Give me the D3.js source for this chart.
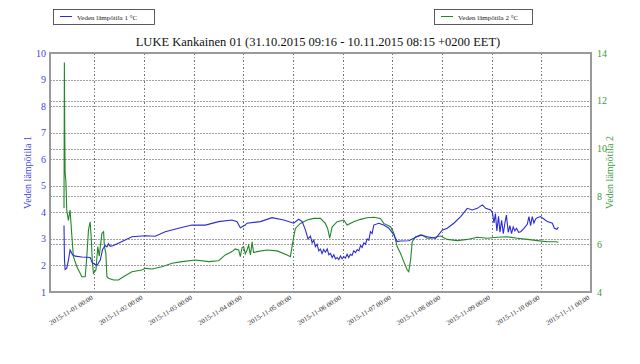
<!DOCTYPE html>
<meta charset="utf-8">
<head>
<style>
body { margin: 0; background: #fff; }
text { font-family: "Liberation Serif", "Times New Roman", serif; }
.grid line { stroke: #a0a0a0; stroke-dasharray: 1.5,1.5; shape-rendering: crispEdges; }
.vgrid line { stroke: #777; stroke-dasharray: 1.5,2; shape-rendering: crispEdges; }
</style>
</head>
<body>
<script src="https://cdn.jsdelivr.net/npm/d3@7"></script>
<script>

var chartTitle = "LUKE Kankainen 01 (31.10.2015 09:16 - 10.11.2015 08:15 +0200 EET)";
var seriesNames = ["Veden lämpötila 1 °C", "Veden lämpötila 2 °C"];
var axisNames = ["Veden lämpötila 1", "Veden lämpötila 2"];

// hours since 2015-10-31 00:00
var blueHours = [9.27, 9.5, 9.8, 10.6, 11.4, 12.2, 13.4, 14.7, 17.9, 21.9, 23.0, 25.2, 26.8, 27.9, 29.2, 30.0, 30.8, 31.6, 33.2, 37.3,
    42.1, 48.5, 53.4, 58.2, 64.6, 71.1, 77.6, 84.0, 90.5, 92.9, 94.5, 96.9, 97.7, 104.2, 109.8, 115.5, 120.3, 122.7, 124.4,
    126, 127.2, 128.4, 129.2, 130, 130.8, 131.6, 132.4, 133.2, 134, 134.8, 135.6, 136.5, 137.3, 138.1, 138.9, 139.7, 140.5,
    141.3, 142.1, 142.9, 143.7, 144.5, 145.3, 146.1, 146.9, 147.7, 148.5, 149.3, 150.2, 151, 151.8, 152.6, 153.4, 154.2,
    155, 155.8, 156.6, 157.4, 158.2, 159, 161.4, 163.8, 166.3, 168.7, 170.3, 171.9, 175.9, 178.4, 181.6, 184.8, 188.9,
    192.1, 194.5, 197.7, 201, 204.2, 206.6, 209, 211.5, 213.1, 215.5, 216.3, 217.1, 217.8, 218.5, 219.3, 220.0, 220.8,
    221.6, 222.4, 223.1, 224.0, 224.8, 225.6, 226.4, 227.2, 228, 229, 230, 231.6, 233.2, 234.0, 234.8, 235.6, 236.4,
    237.2, 238.0, 239.6, 241.2, 242.9, 245.3, 246.3, 247.5, 248.25];
var blueTemp = [3.5, 2.2, 1.85, 1.9, 2.2, 2.58, 2.4, 2.35, 2.32, 2.3, 2.1, 2.0, 2.2, 2.6, 2.75, 2.7, 2.82, 2.72, 2.75, 2.9,
    3.08, 3.12, 3.1, 3.27, 3.4, 3.52, 3.52, 3.65, 3.71, 3.65, 3.42, 3.52, 3.59, 3.65, 3.80, 3.71, 3.59, 3.74, 3.65,
    3.33, 3.0, 3.1, 2.85, 2.95, 2.71, 2.8, 2.55, 2.62, 2.45, 2.6, 2.5, 2.62, 2.4, 2.45, 2.3, 2.4, 2.25,
    2.3, 2.22, 2.36, 2.25, 2.33, 2.28, 2.42, 2.3, 2.42, 2.38, 2.55, 2.48, 2.6, 2.55, 2.75, 2.68, 2.85,
    2.8, 3.0, 2.95, 3.27, 3.2, 3.52, 3.59, 3.52, 3.40, 3.15, 2.9, 2.92, 2.93, 3.02, 3.15, 3.08, 3.02,
    3.33, 3.40, 3.59, 3.84, 4.15, 4.09, 4.15, 4.28, 4.15, 4.09, 4.0, 3.6, 3.95, 3.3, 3.85, 3.25, 3.7,
    3.2, 3.6, 3.9, 3.25, 3.5, 3.2, 3.45, 3.3, 3.4, 3.25, 3.27, 3.4, 3.55, 3.84, 3.5, 3.84, 3.6,
    3.75, 3.8, 3.84, 3.75, 3.65, 3.59, 3.4, 3.36, 3.45];

var greenHours = [9.27, 9.45, 9.6, 9.8, 10.2, 10.6, 11.4, 12.2, 13.1, 13.8, 15.5, 17.9, 19.5, 20.3, 21.1, 21.9, 22.4, 23.0, 23.5,
    24.7, 25.6, 26.3, 27.6, 28.4, 28.8, 29.5, 30.0, 30.8, 33.2, 35.6, 38.0, 42.1, 46.9, 48.5, 51.8, 56.6, 61.5, 66.3,
    72.7, 79.2, 84.0, 87.2, 90.5, 92.0, 93.7, 94.5, 95.3, 96.1, 96.9, 97.7, 98.5, 99.4, 100.2, 100.9, 102.6, 107.4, 112.3,
    117.1, 118.7, 120.3, 121.1, 123.5, 126.8, 130.0, 133.2, 135.6, 136.7, 137.7, 138.9, 141.3, 144.5, 146.1, 149.3, 152.6,
    155.8, 159.0, 162.2, 163.8, 167.1, 168.7, 170.3, 171.9, 173.5, 175.2, 175.9, 176.8, 177.6, 179.2, 182.4, 184.8,
    186.4, 191.3, 194.5, 199.4, 204.2, 209.0, 213.9, 218.7, 223.5, 228.4, 233.2, 238.1, 242.9, 246.9, 248.25];
var greenTemp = [7.5, 13.6, 11.0, 9.0, 8.6, 7.43, 7.0, 7.43, 6.31, 5.48, 5.06, 4.64, 4.64, 5.48, 6.59, 6.94, 6.3, 5.2, 4.78,
    4.92, 5.9, 5.5, 6.46, 6.52, 5.9, 5.62, 4.64, 4.57, 4.50, 4.50, 4.64, 4.85, 4.92, 4.99, 4.96, 5.06, 5.2, 5.27,
    5.34, 5.27, 5.31, 5.55, 5.69, 5.8, 5.76, 5.48, 5.85, 5.9, 5.6, 5.75, 5.95, 5.55, 6.1, 5.65, 5.69, 5.76, 5.72,
    5.55, 5.48, 6.31, 6.66, 6.87, 7.01, 7.08, 7.08, 6.87, 6.66, 6.25, 6.73, 6.94, 7.01, 6.80, 6.94, 7.04,
    7.11, 7.13, 7.08, 6.87, 6.73, 6.46, 5.9, 5.62, 5.27, 4.92, 4.85, 5.34, 6.1, 6.31, 6.38, 6.25,
    6.25, 6.34, 6.2, 6.15, 6.2, 6.29, 6.25, 6.29, 6.31, 6.25, 6.2, 6.15, 6.1, 6.1, 6.08];

var leftTicks = [1, 2, 3, 4, 5, 6, 7, 8, 9, 10];
var rightTicks = [4, 6, 8, 10, 12, 14];
var dayTicks = ["2015-11-01", "2015-11-02", "2015-11-03", "2015-11-04", "2015-11-05", "2015-11-06",
    "2015-11-07", "2015-11-08", "2015-11-09", "2015-11-10", "2015-11-11"];

var blueColor = "#2b2bd8",
    greenColor = "#23862a";

var W = 640, H = 364;
var plot = {left: 50, right: 591, top: 53, bottom: 292};

var base = new Date(2015, 9, 31, 0, 0);
function toDate(h) { return new Date(base.getTime() + h * 3600e3); }
var parseDay = d3.timeParse("%Y-%m-%d");
var fmt = d3.timeFormat("%Y-%m-%d %H:%M");

var x = d3.scaleTime()
    .domain([new Date(2015, 9, 31, 2, 30), new Date(2015, 10, 11, 0, 0)])
    .range([plot.left, plot.right]);
var yL = d3.scaleLinear().domain([1, 10]).range([plot.bottom, plot.top]);
var yR = d3.scaleLinear().domain([4, 14]).range([plot.bottom, plot.top]);

var svg = d3.select("body").append("svg")
    .attr("width", W)
    .attr("height", H);

// grid
var grid = svg.append("g").attr("class", "grid");
grid.selectAll(".gl").data(leftTicks.slice(1, -1)).enter().append("line")
    .attr("x1", plot.left).attr("x2", plot.right)
    .attr("y1", function(d) { return Math.round(yL(d)) + 0.5; })
    .attr("y2", function(d) { return Math.round(yL(d)) + 0.5; });
grid.selectAll(".gr").data(rightTicks.slice(1, -1)).enter().append("line")
    .attr("x1", plot.left).attr("x2", plot.right)
    .attr("y1", function(d) { return Math.round(yR(d)) + 0.5; })
    .attr("y2", function(d) { return Math.round(yR(d)) + 0.5; });

var vgrid = svg.append("g").attr("class", "vgrid");
vgrid.selectAll("line").data(dayTicks).enter().append("line")
    .attr("x1", function(d) { return Math.round(x(parseDay(d))) + 0.5; })
    .attr("x2", function(d) { return Math.round(x(parseDay(d))) + 0.5; })
    .attr("y1", plot.top).attr("y2", plot.bottom);

// series
var lineL = d3.line()
    .x(function(d, i) { return x(toDate(blueHours[i])); })
    .y(function(d) { return yL(d); });
var lineR = d3.line()
    .x(function(d, i) { return x(toDate(greenHours[i])); })
    .y(function(d) { return yR(d); });

svg.append("path")
    .attr("d", lineR(greenTemp))
    .attr("fill", "none")
    .attr("stroke", greenColor)
    .attr("stroke-width", 1.1);
svg.append("path")
    .attr("d", lineL(blueTemp))
    .attr("fill", "none")
    .attr("stroke", blueColor)
    .attr("stroke-width", 1.1);

// frame
svg.append("rect")
    .attr("x", plot.left).attr("y", plot.top)
    .attr("width", plot.right - plot.left)
    .attr("height", plot.bottom - plot.top)
    .attr("fill", "none")
    .attr("stroke", "#9a9a9a")
    .attr("stroke-width", 2);

// tick labels
svg.selectAll(".lt").data(leftTicks).enter().append("text")
    .attr("x", plot.left - 4)
    .attr("y", function(d) { return yL(d) + 3.5; })
    .attr("text-anchor", "end")
    .attr("font-size", 10)
    .attr("fill", "#4444dd")
    .text(function(d) { return d; });
svg.selectAll(".rt").data(rightTicks).enter().append("text")
    .attr("x", plot.right + 6)
    .attr("y", function(d) { return yR(d) + 3.5; })
    .attr("font-size", 10)
    .attr("fill", "#3a9a3a")
    .text(function(d) { return d; });

svg.selectAll(".xt").data(dayTicks).enter().append("text")
    .attr("transform", function(d) {
        return "translate(" + (x(parseDay(d)) - 1) + "," + (plot.bottom + 7) + ") rotate(-32)";
    })
    .attr("text-anchor", "end")
    .attr("font-size", 7)
    .attr("fill", "#333")
    .text(function(d) { return fmt(parseDay(d)); });

// axis names
svg.append("text")
    .attr("transform", "translate(31," + ((plot.top + plot.bottom) / 2) + ") rotate(-90)")
    .attr("text-anchor", "middle")
    .attr("font-size", 10)
    .attr("fill", "#4444dd")
    .text(axisNames[0]);
svg.append("text")
    .attr("transform", "translate(613," + ((plot.top + plot.bottom) / 2) + ") rotate(-90)")
    .attr("text-anchor", "middle")
    .attr("font-size", 10)
    .attr("fill", "#3a9a3a")
    .text(axisNames[1]);

// title
svg.append("text")
    .attr("x", 318)
    .attr("y", 46)
    .attr("text-anchor", "middle")
    .attr("font-size", 12.5)
    .attr("fill", "#111")
    .text(chartTitle);

// legends
var legends = [
    {x: 53, w: 101, color: blueColor, name: seriesNames[0]},
    {x: 434, w: 98, color: greenColor, name: seriesNames[1]}
];
legends.forEach(function(l) {
    var g = svg.append("g").attr("transform", "translate(" + l.x + ",9)");
    g.append("rect").attr("x", 0.5).attr("y", 0.5).attr("width", l.w).attr("height", 15)
        .attr("fill", "#fff").attr("stroke", "#333").attr("stroke-width", 0.8);
    g.append("line").attr("x1", 7).attr("x2", 19).attr("y1", 7.5).attr("y2", 7.5)
        .attr("stroke", l.color).attr("stroke-width", 1);
    g.append("text").attr("x", 24).attr("y", 10.5).attr("font-size", 7).attr("fill", "#222")
        .text(l.name);
});

</script>
</body>
